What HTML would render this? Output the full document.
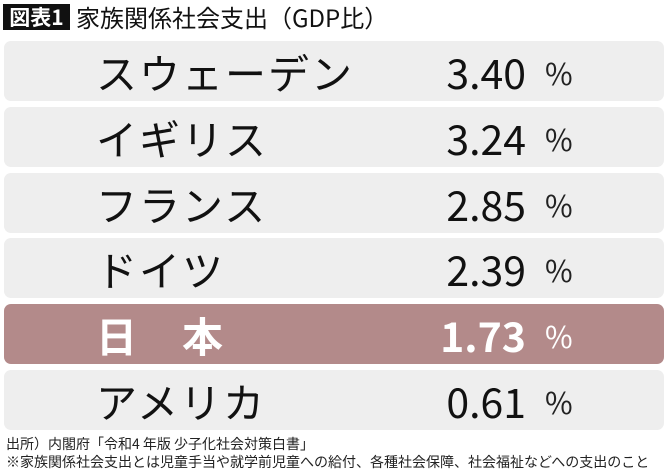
<!DOCTYPE html>
<html><head><meta charset="utf-8"><style>
body{margin:0;width:670px;height:474px;background:#fff;font-family:"Liberation Sans","Noto Sans CJK JP",sans-serif;position:relative;overflow:hidden}
.tag{position:absolute;left:3px;top:4px;width:67px;height:26px;background:#111;color:#fff;font-weight:bold;font-size:21px;line-height:26px;text-align:center;font-family:"Noto Sans CJK JP",sans-serif}
.title{position:absolute;left:76px;top:1px;font-size:24px;line-height:32px;color:#111;font-family:"Noto Sans CJK JP",sans-serif}
.row{position:absolute;left:4px;width:660px;height:60px;background:#eeeeee;border-radius:7px}
.name{position:absolute;left:92px;top:0;line-height:60px;font-size:41px;color:#111;font-family:"Noto Sans CJK JP",sans-serif;letter-spacing:2px}
.val{position:absolute;right:138px;top:0;line-height:60px;font-size:41px;color:#111;font-family:"Noto Sans CJK JP",sans-serif}
.pct{position:absolute;left:541px;top:0;line-height:62px;font-size:30px;color:#222;font-family:"Noto Sans CJK JP",sans-serif}
.hi{background:#b38a8a}
.hi .name,.hi .val{color:#fff;font-weight:bold}
.hi .pct{color:#fff}
.foot{position:absolute;left:6px;font-size:14px;color:#222;font-family:"Noto Sans CJK JP",sans-serif;line-height:18px}
</style></head><body>
<div class="tag">図表1</div>
<div class="title">家族関係社会支出（GDP比）</div>
<div class="row" style="top:41px"><div class="name">スウェーデン</div><div class="val">3.40</div><div class="pct">%</div></div>
<div class="row" style="top:107px"><div class="name">イギリス</div><div class="val">3.24</div><div class="pct">%</div></div>
<div class="row" style="top:173px"><div class="name">フランス</div><div class="val">2.85</div><div class="pct">%</div></div>
<div class="row" style="top:238px"><div class="name">ドイツ</div><div class="val">2.39</div><div class="pct">%</div></div>
<div class="row hi" style="top:304px"><div class="name">日　本</div><div class="val">1.73</div><div class="pct">%</div></div>
<div class="row" style="top:370px"><div class="name">アメリカ</div><div class="val">0.61</div><div class="pct">%</div></div>
<div class="foot" style="top:435px">出所）内閣府「令和4 年版 少子化社会対策白書」</div>
<div class="foot" style="top:453px">※家族関係社会支出とは児童手当や就学前児童への給付、各種社会保障、社会福祉などへの支出のこと</div>
</body></html>
